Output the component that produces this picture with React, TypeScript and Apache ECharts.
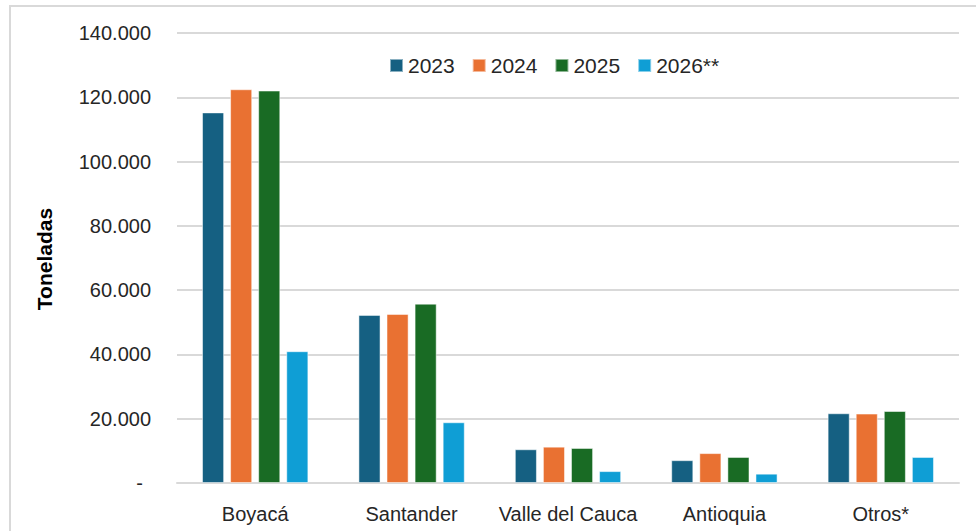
import React, { useEffect, useRef } from "react";
import * as echarts from "echarts";

const categories = ["Boyacá", "Santander", "Valle del Cauca", "Antioquia", "Otros*"];
const seriesNames = ["2023", "2024", "2025", "2026**"];
const values2023 = [115300, 52300, 10500, 7100, 21700];
const values2024 = [122500, 52600, 11300, 9300, 21600];
const values2025 = [122100, 55800, 10900, 8100, 22400];
const values2026 = [41000, 18900, 3700, 2900, 8100];
const colors = ["#156082", "#E97132", "#196B24", "#0F9ED5"];
const yMin = 0;
const yMax = 140000;
const yInterval = 20000;
const yTitle = "Toneladas";

const FONT = "'Liberation Sans', Arial, sans-serif";

function fmt(v: number): string {
  if (v === 0) return "{d|-}";
  return String(Math.round(v)).replace(/\B(?=(\d{3})+(?!\d))/g, ".");
}

export default function App() {
  const ref = useRef<HTMLDivElement>(null);
  useEffect(() => {
    if (!ref.current) return;
    const chart = echarts.init(ref.current, undefined, { renderer: "svg" });
    const all = [values2023, values2024, values2025, values2026];
    chart.setOption({
      animation: false,
      backgroundColor: "#ffffff",
      textStyle: { fontFamily: FONT },
      grid: { left: 177, right: 17, top: 33, bottom: 48, containLabel: false },
      legend: {
        data: seriesNames,
        left: 384,
        top: 50,
        icon: "rect",
        itemWidth: 13,
        itemHeight: 13,
        itemGap: 17,
        textStyle: { fontSize: 21, color: "#262626", fontFamily: FONT },
      },
      xAxis: {
        type: "category",
        data: categories,
        axisTick: { show: false },
        axisLine: { lineStyle: { color: "#d9d9d9", width: 2 } },
        axisLabel: { interval: 0, fontSize: 20, color: "#262626", margin: 21, fontFamily: FONT },
      },
      yAxis: {
        type: "value",
        min: yMin,
        max: yMax,
        interval: yInterval,
        axisLine: { show: false },
        axisTick: { show: false },
        splitLine: { lineStyle: { color: "#d9d9d9", width: 2 } },
        axisLabel: {
          fontSize: 20,
          color: "#262626",
          margin: 26,
          fontFamily: FONT,
          formatter: (v: number) => fmt(v),
          rich: { d: { fontSize: 20, color: "#262626", padding: [0, 8, 0, 0], fontFamily: FONT } },
        },
      },
      series: seriesNames.map((name, i) => ({
        name,
        type: "bar",
        data: all[i],
        barGap: "27%",
        barCategoryGap: "32%",
        itemStyle: { color: colors[i], borderColor: "rgba(255,255,255,0.5)", borderWidth: 1 },
      })),
      graphic: [
        {
          type: "rect",
          shape: { x: 10, y: 6, width: 990, height: 560 },
          style: { fill: "none", stroke: "#d9d9d9", lineWidth: 2 },
          silent: true,
        },
        {
          type: "text",
          x: 44,
          y: 259,
          rotation: Math.PI / 2,
          style: {
            text: yTitle,
            font: `bold 21px ${FONT}`,
            fill: "#000000",
            align: "center",
            verticalAlign: "middle",
          },
        },
      ],
    });
    return () => chart.dispose();
  }, []);
  return (
    <div
      ref={ref}
      style={{ position: "absolute", left: 0, top: 0, width: 976, height: 531 }}
    />
  );
}
